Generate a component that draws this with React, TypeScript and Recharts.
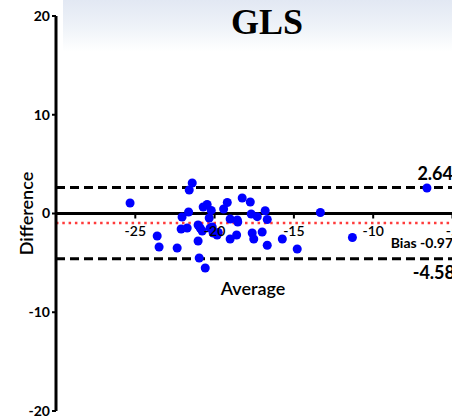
import React from 'react';
import { ScatterChart, Scatter, XAxis, YAxis, ReferenceLine } from 'recharts';

const averages = [
  -25.33, -21.41, -21.6, -23.62, -23.5, -22.36, -22.05, -22.11, -21.73, -21.64,
  -21.04, -20.91, -20.78, -21.04, -20.97, -20.59, -20.72, -20.47, -20.21, -20.34,
  -20.28, -20.09, -19.77, -19.84, -19.43, -19.2, -18.26, -17.75, -17.69, -17.31,
  -16.81, -16.68, -19.02, -18.57, -18.54, -19.02, -18.61, -17.63, -17.53, -17.0,
  -16.68, -15.73, -14.79, -13.33, -11.31, -6.61, -20.15,
];
const differences = [
  1.06, 3.09, 2.38, -2.28, -3.39, -3.49, -0.35, -1.57, -1.47, 0.15,
  -1.16, -1.47, -1.77, -2.78, -4.51, -5.52, 0.66, 0.91, 0.3, -0.46,
  -1.47, -1.97, -1.92, -2.18, 0.46, 1.11, 1.57, 1.16, -0.05, -0.32,
  0.28, -0.61, -0.56, -0.66, -0.86, -2.58, -2.18, -1.97, -2.58, -1.87,
  -3.22, -2.58, -3.59, 0.1, -2.43, 2.58, -1.37,
];
const xTicks = [-25, -20, -15, -10, -5];
const yTicks = [-20, -10, 0, 10, 20];
const upperLoA = 2.64;
const lowerLoA = -4.58;
const bias = -0.97;
const title = 'GLS';
const xLabel = 'Average';
const yLabel = 'Difference';

const data = averages.map((a, i) => ({ avg: a, diff: differences[i] }));

const W = 490;
const H = 420;
const M = { top: 16, right: 28, bottom: 0, left: 0 };
const X_AXIS_H = 9;
const PLOT_H = H - M.top - M.bottom - X_AXIS_H;
const ZERO_Y = M.top + PLOT_H / 2;
const FONT = 'Lato, "Open Sans", sans-serif';

const XTick = (props: any) => {
  const { x, payload } = props;
  return (
    <g>
      <line x1={x} x2={x} y1={ZERO_Y} y2={ZERO_Y + 5} stroke="#000" strokeWidth={2} />
      <text x={x} y={ZERO_Y + 22} textAnchor="middle" fontSize={14} fontWeight={600} fontFamily={FONT} fill="#000">
        {payload.value}
      </text>
    </g>
  );
};

export default function App() {
  return (
    <div style={{ position: 'absolute', left: 0, top: 0, width: 452, height: 420, overflow: 'hidden', background: '#fff' }}>
      <div
        style={{
          position: 'absolute',
          left: 63,
          top: 0,
          width: 420,
          height: 52,
          background: 'linear-gradient(to bottom, #e2e8f3 0%, #eef2f8 50%, #ffffff 100%)',
        }}
      />
      <div
        style={{
          position: 'absolute',
          left: 167,
          top: 4,
          width: 200,
          textAlign: 'center',
          fontFamily: '"Liberation Serif", serif',
          fontWeight: 700,
          fontSize: 36,
          lineHeight: 1,
          color: '#000',
        }}
      >
        {title}
      </div>
      <div style={{ position: 'absolute', left: 0, top: 0 }}>
        <ScatterChart width={W} height={H} margin={M}>
          <XAxis
            type="number"
            dataKey="avg"
            domain={[-30, -4.4]}
            allowDataOverflow
            ticks={xTicks}
            interval={0}
            height={X_AXIS_H}
            tickSize={0}
            tickMargin={0}
            axisLine={false}
            tickLine={false}
            tick={<XTick />}
          />
          <YAxis
            type="number"
            dataKey="diff"
            domain={[-20, 20]}
            ticks={yTicks}
            interval={0}
            width={56}
            axisLine={{ stroke: '#000', strokeWidth: 3 }}
            tickLine={{ stroke: '#000', strokeWidth: 2 }}
            tickSize={4}
            tick={{ fill: '#000', fontSize: 14, fontWeight: 700, fontFamily: FONT }}
            label={{
              value: yLabel,
              angle: -90,
              position: 'center',
              dx: -1,
              fill: '#000',
              fontSize: 18,
              fontWeight: 600,
              fontFamily: FONT,
            }}
          />
          <ReferenceLine
            y={0}
            stroke="#000"
            strokeWidth={3}
            ifOverflow="visible"
            label={{
              value: xLabel,
              position: 'bottom',
              offset: 69,
              dx: -6,
              fill: '#000',
              fontSize: 18,
              fontWeight: 600,
              fontFamily: FONT,
            }}
          />
          <ReferenceLine
            y={upperLoA}
            stroke="#000"
            strokeWidth={3}
            strokeDasharray="9 5"
            label={{
              value: upperLoA.toFixed(2),
              position: 'insideBottomRight',
              offset: 7,
              dx: -2,
              fill: '#000',
              fontSize: 18,
              fontWeight: 700,
              fontFamily: FONT,
            }}
          />
          <ReferenceLine
            y={bias}
            stroke="#ff3b3b"
            strokeWidth={2.5}
            strokeDasharray="2.5 3.8"
            label={{
              value: `Bias ${bias.toFixed(2)}`,
              position: 'insideTopRight',
              offset: 7,
              dy: 8,
              dx: -2,
              fill: '#000',
              fontSize: 14,
              fontWeight: 700,
              fontFamily: FONT,
            }}
          />
          <ReferenceLine
            y={lowerLoA}
            stroke="#000"
            strokeWidth={3}
            strokeDasharray="9 5"
            label={{
              value: lowerLoA.toFixed(2),
              position: 'insideTopRight',
              offset: 7,
              fill: '#000',
              fontSize: 18,
              fontWeight: 700,
              fontFamily: FONT,
            }}
          />
          <Scatter data={data} fill="#0000ff" isAnimationActive={false} />
        </ScatterChart>
      </div>
    </div>
  );
}
